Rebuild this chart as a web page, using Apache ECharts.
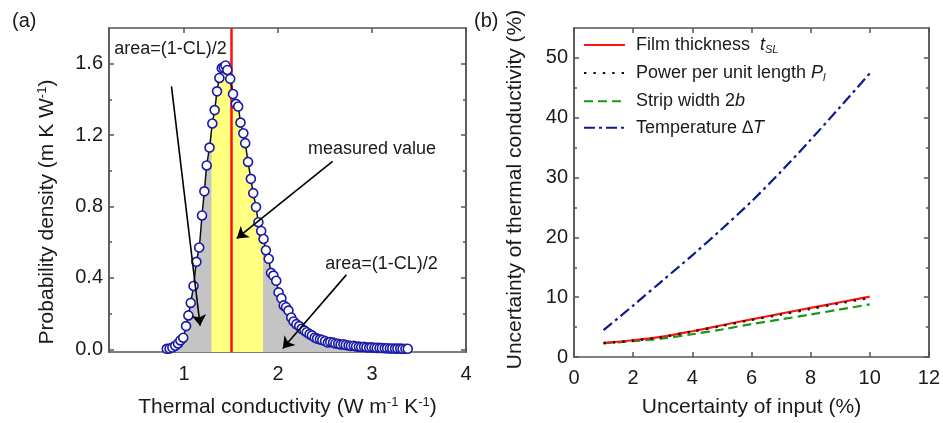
<!DOCTYPE html>
<html>
<head>
<meta charset="utf-8">
<script src="https://cdn.jsdelivr.net/npm/echarts@6/dist/echarts.min.js"></script>
<style>html,body{margin:0;padding:0;background:#fff;}#c{width:943px;height:423px;}</style>
</head>
<body>
<div id="c"></div>
<script>
// ---------- Panel (a): probability density ----------
const densX = [0.815,0.845,0.875,0.905,0.935,0.960,0.990,1.020,1.045,1.070,1.100,1.130,1.160,1.190,1.215,1.240,1.270,1.300,1.325,1.350,1.375,1.400,1.420,1.440,1.460,1.490,1.520,1.550,1.575,1.600,1.630,1.650,1.680,1.710,1.735,1.765,1.790,1.820,1.845,1.870,1.900,1.925,1.950,1.980,2.005,2.035,2.060,2.085,2.110,2.140,2.165,2.195,2.225,2.250,2.280,2.305,2.335,2.360,2.390,2.415,2.445,2.470,2.500,2.530,2.555,2.585,2.610,2.640,2.665,2.695,2.720,2.750,2.775,2.805,2.830,2.860,2.885,2.915,2.940,2.970,2.995,3.025,3.050,3.080,3.105,3.135,3.160,3.190,3.215,3.245,3.270,3.300,3.325,3.355,3.380];
const densY = [0.003,0.004,0.010,0.020,0.033,0.050,0.065,0.130,0.190,0.260,0.355,0.490,0.570,0.750,0.885,1.030,1.130,1.265,1.340,1.445,1.520,1.575,1.580,1.590,1.565,1.515,1.430,1.375,1.360,1.270,1.210,1.155,1.050,0.955,0.875,0.797,0.712,0.663,0.618,0.555,0.507,0.428,0.413,0.384,0.319,0.286,0.246,0.236,0.217,0.178,0.156,0.141,0.130,0.115,0.105,0.096,0.085,0.078,0.066,0.060,0.056,0.052,0.046,0.038,0.041,0.038,0.033,0.031,0.027,0.028,0.024,0.021,0.019,0.020,0.016,0.015,0.013,0.014,0.011,0.010,0.011,0.009,0.008,0.008,0.007,0.006,0.006,0.005,0.005,0.004,0.004,0.004,0.003,0.003,0.003];
const bandX = [1.29, 1.84];        // confidence band edges (yellow)
const bandEdgeY = [1.22, 0.633];   // curve height at the band edges
const measuredValue = 1.5;
const xTicksA = [1, 2, 3, 4];
const yTicksA = [0, 0.4, 0.8, 1.2, 1.6];
const yMinorA = [0.2, 0.6, 1.0, 1.4];
const annoText = ['area=(1-CL)/2', 'measured value', 'area=(1-CL)/2'];
const annoX = [0.855, 3.0, 3.10];
const annoY = [1.68, 1.12, 0.479];
const arrowFrom = [[0.865, 1.473], [2.58, 1.053], [2.726, 0.417]];
const arrowTo = [[1.17, 0.132], [1.56, 0.621], [2.05, 0.005]];

// ---------- Panel (b): uncertainty propagation ----------
const inputUnc = [1, 2, 3, 4, 5, 6, 7, 8, 9, 10];
const filmThickness = [2.35, 2.8, 3.4, 4.3, 5.3, 6.3, 7.25, 8.2, 9.15, 10.1];
const powerPerLength = [2.3, 2.75, 3.35, 4.25, 5.2, 6.2, 7.1, 8.05, 9.0, 9.9];
const stripWidth = [2.3, 2.65, 3.1, 3.8, 4.6, 5.5, 6.3, 7.1, 7.95, 8.8];
const temperature = [4.5, 8.6, 12.8, 17.0, 21.4, 26.0, 31.0, 36.3, 41.8, 47.4];
const yTicksB = [0, 10, 20, 30, 40, 50];
const yMinorB = [5, 15, 25, 35, 45];
const legendNames = ['Film thickness', 'Power per unit length', 'Strip width', 'Temperature'];
const legendRich = {
  'Film thickness': 'Film thickness  {i|t}{sub|SL}',
  'Power per unit length': 'Power per unit length {i|P}{sub|l}',
  'Strip width': 'Strip width 2{i|b}',
  'Temperature': 'Temperature {i|\u2206T}'
};

const FONT = 'Liberation Sans, Arial, sans-serif';
const AX = '#555';
const TXT = '#1a1a1a';

const curve = densX.map((x, i) => [x, densY[i]]);
const band = [[bandX[0], bandEdgeY[0]]]
  .concat(curve.filter(p => p[0] > bandX[0] && p[0] < bandX[1]))
  .concat([[bandX[1], bandEdgeY[1]]]);
const supRich = { sup: { fontSize: 13, fontFamily: FONT, color: TXT, padding: [0, 0, 10, 0] } };

function baseAxis(extra) {
  return Object.assign({
    type: 'value',
    axisLine: { show: true, onZero: false, lineStyle: { color: AX, width: 1.5 } },
    axisTick: { show: true, inside: true, length: 5, lineStyle: { color: AX, width: 1.5 } },
    axisLabel: { show: false },
    splitLine: { show: false }
  }, extra);
}
function tickAxis(grid, pos, min, max, vals, len, labels, fmt, margin) {
  return baseAxis({
    gridIndex: grid, position: pos, min: min, max: max,
    axisTick: { show: true, inside: true, length: len, customValues: vals, lineStyle: { color: AX, width: 1.5 } },
    axisLabel: { show: !!labels, customValues: vals, fontSize: 20, color: TXT, fontFamily: FONT, margin: margin || 6, formatter: fmt }
  });
}

const xAxes = [
  Object.assign(tickAxis(0, 'bottom', 0.2, 4, xTicksA, 5, true, v => String(v), 12), {
    name: 'Thermal conductivity (W m{sup|-1} K{sup|-1})', nameLocation: 'middle', nameGap: 44,
    nameTextStyle: { fontSize: 21, color: TXT, fontFamily: FONT, rich: supRich }
  }),
  tickAxis(0, 'top', 0.2, 4, xTicksA, 5, false),
  Object.assign(baseAxis({ gridIndex: 1, position: 'bottom', min: 0, max: 12, interval: 2,
    axisLabel: { show: true, fontSize: 20, color: TXT, fontFamily: FONT, margin: 11 } }), {
    name: 'Uncertainty of input (%)', nameLocation: 'middle', nameGap: 40,
    nameTextStyle: { fontSize: 21, color: TXT, fontFamily: FONT }
  }),
  baseAxis({ gridIndex: 1, position: 'top', min: 0, max: 12, interval: 2 })
];
const yAxes = [
  Object.assign(tickAxis(0, 'left', -0.015, 1.8, yTicksA, 5, true, v => v.toFixed(1)), {
    name: 'Probability density (m K W{sup|-1})', nameLocation: 'middle', nameGap: 50,
    nameTextStyle: { fontSize: 21, color: TXT, fontFamily: FONT, rich: supRich, padding: [0, 44, 0, 0] }
  }),
  tickAxis(0, 'right', -0.015, 1.8, yTicksA, 5, false),
  tickAxis(0, 'left', -0.015, 1.8, yMinorA, 3, false),
  tickAxis(0, 'right', -0.015, 1.8, yMinorA, 3, false),
  Object.assign(tickAxis(1, 'left', 0, 55, yTicksB, 5, true, v => String(v)), {
    name: 'Uncertainty of thermal conductivity (%)', nameLocation: 'middle', nameGap: 48,
    nameTextStyle: { fontSize: 21, color: TXT, fontFamily: FONT, padding: [0, 0, 0, 6] }
  }),
  tickAxis(1, 'right', 0, 55, yTicksB, 5, false),
  tickAxis(1, 'left', 0, 55, yMinorB, 3, false),
  tickAxis(1, 'right', 0, 55, yMinorB, 3, false)
];

const chart = echarts.init(document.getElementById('c'), null, { renderer: 'canvas' });
chart.setOption({
  backgroundColor: '#fff',
  animation: false,
  textStyle: { fontFamily: FONT },
  grid: [
    { left: 109, top: 28, width: 357, height: 334 },
    { left: 574, top: 28, width: 356, height: 335 }
  ],
  graphic: [
    { type: 'text', left: 12, top: 11, style: { text: '(a)', fontSize: 20, fill: TXT, fontFamily: FONT } },
    { type: 'text', left: 474, top: 11, style: { text: '(b)', fontSize: 20, fill: TXT, fontFamily: FONT } }
  ],
  legend: {
    data: legendNames,
    orient: 'vertical', left: 583, top: 36, padding: 0,
    itemWidth: 41, itemHeight: 14, itemGap: 8.6,
    itemStyle: { opacity: 0 },
    textStyle: {
      fontSize: 18, color: TXT, fontFamily: FONT, padding: [0, 0, 0, 6],
      rich: {
        i: { fontSize: 18, fontStyle: 'italic', color: TXT, fontFamily: FONT },
        sub: { fontSize: 11, fontStyle: 'italic', color: TXT, fontFamily: FONT, padding: [10, 0, 0, 0] }
      }
    },
    formatter: n => legendRich[n]
  },
  xAxis: xAxes,
  yAxis: yAxes,
  series: [
    {
      type: 'line', name: 'tails', xAxisIndex: 0, yAxisIndex: 0, data: curve,
      smooth: 0.3, symbol: 'none', z: 1,
      lineStyle: { width: 0 },
      areaStyle: { color: '#c4c4c4', opacity: 1, origin: 'start' }
    },
    {
      type: 'line', name: 'band', xAxisIndex: 0, yAxisIndex: 0, data: band,
      smooth: 0.3, symbol: 'none', z: 2,
      lineStyle: { width: 0 },
      areaStyle: { color: '#ffff80', opacity: 1, origin: 'start' },
      markLine: {
        silent: true, symbol: ['none', 'none'], z: 3, label: { show: false },
        lineStyle: { color: '#ff1010', width: 2.5, type: 'solid' },
        data: [{ xAxis: measuredValue }]
      }
    },
    {
      type: 'line', name: 'density', xAxisIndex: 0, yAxisIndex: 0, data: curve,
      smooth: 0.3, symbol: 'none', z: 4,
      lineStyle: { color: '#111', width: 1.5 },
      markLine: {
        silent: true, symbol: ['none', 'arrow'], symbolSize: 11, z: 8,
        label: { show: false },
        lineStyle: { color: '#000', width: 1.6, type: 'solid' },
        data: arrowFrom.map((p, i) => [{ coord: p }, { coord: arrowTo[i] }])
      },
      markPoint: {
        silent: true, symbol: 'rect', symbolSize: 1, itemStyle: { color: 'rgba(0,0,0,0)' },
        label: { show: true, position: 'inside', fontSize: 18, color: TXT, fontFamily: FONT },
        data: annoText.map((t, i) => ({ coord: [annoX[i], annoY[i]], label: { formatter: t } }))
      }
    },
    {
      type: 'scatter', name: 'samples', xAxisIndex: 0, yAxisIndex: 0, data: curve, z: 6,
      symbol: 'circle', symbolSize: 9,
      itemStyle: { color: '#fff', borderColor: '#1a1aa8', borderWidth: 1.6, opacity: 1 }
    },
    {
      type: 'line', name: 'Temperature', xAxisIndex: 2, yAxisIndex: 4,
      data: inputUnc.map((x, i) => [x, temperature[i]]), symbol: 'none', smooth: 0.3,
      lineStyle: { color: '#0c1a8c', width: 2.2, type: [11, 4, 3, 4] }, itemStyle: { color: '#0c1a8c' }
    },
    {
      type: 'line', name: 'Strip width', xAxisIndex: 2, yAxisIndex: 4,
      data: inputUnc.map((x, i) => [x, stripWidth[i]]), symbol: 'none', smooth: 0.3,
      lineStyle: { color: '#169a16', width: 2.2, type: [9, 5] }, itemStyle: { color: '#169a16' }
    },
    {
      type: 'line', name: 'Film thickness', xAxisIndex: 2, yAxisIndex: 4,
      data: inputUnc.map((x, i) => [x, filmThickness[i]]), symbol: 'none', smooth: 0.3,
      lineStyle: { color: '#ff1414', width: 2.2 }, itemStyle: { color: '#ff1414' }
    },
    {
      type: 'line', name: 'Power per unit length', xAxisIndex: 2, yAxisIndex: 4,
      data: inputUnc.map((x, i) => [x, powerPerLength[i]]), symbol: 'none', smooth: 0.3,
      lineStyle: { color: '#111', width: 2.4, type: [2.4, 7] }, itemStyle: { color: '#111' }
    }
  ]
});
</script>
</body>
</html>
